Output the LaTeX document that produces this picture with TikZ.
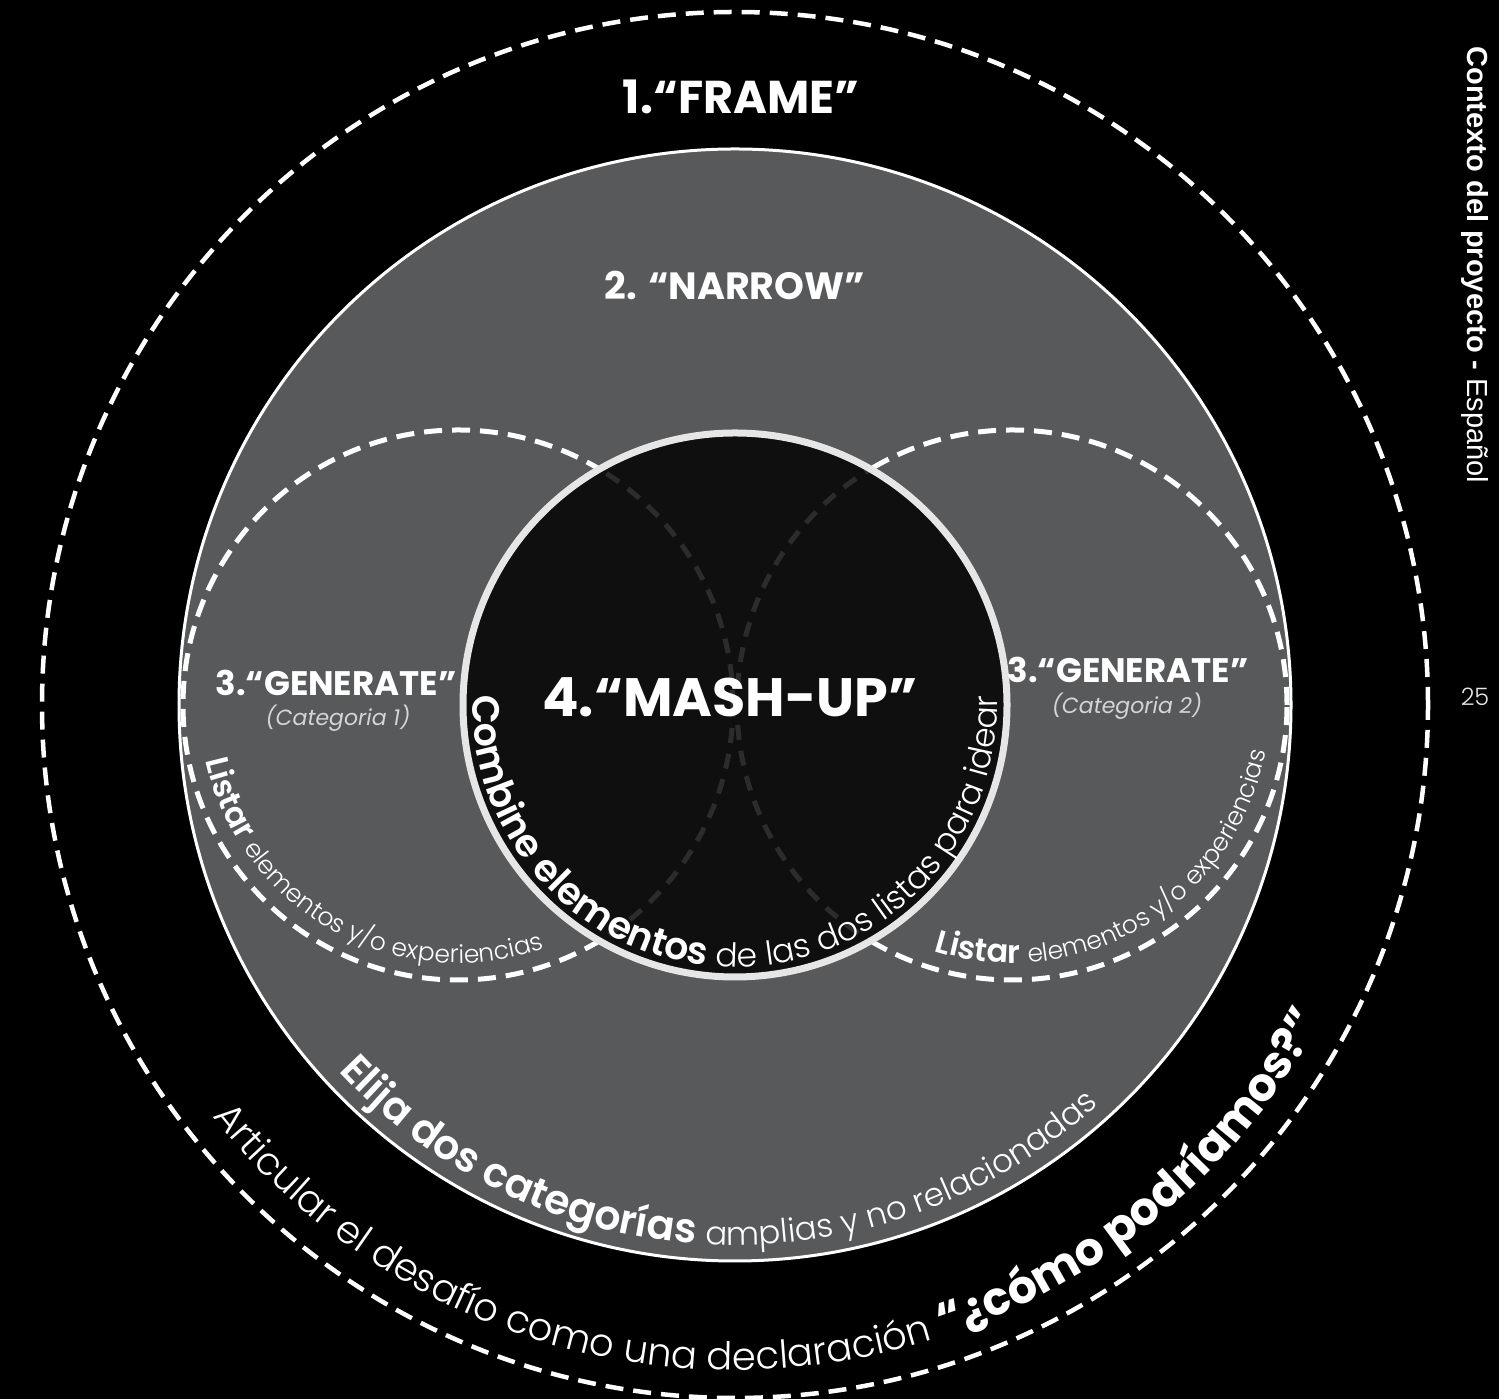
\documentclass[tikz,border=0pt]{standalone}
\usepackage{fontspec}
\setmainfont{Poppins}
\IfFontExistsTF{Poppins Light}{\newfontfamily\ligera{Poppins Light}}{\newfontfamily\ligera{Poppins}}
\IfFontExistsTF{Poppins SemiBold}{\newfontfamily\semi{Poppins SemiBold}}{\newcommand\semi{\bfseries}}
\newfontfamily\arial{Liberation Sans}
\usetikzlibrary{decorations.text}

\definecolor{NarrowColor}{HTML}{58595B}
\definecolor{MashColor}{HTML}{0F0F0F}
\definecolor{MashBorde}{HTML}{E6E6E6}
\definecolor{DashOscuro}{HTML}{2C2C2C}
\definecolor{CatColor}{HTML}{D4D4D4}

\tikzset{
  guion/.style={white, line width=5pt, dash pattern=on 18pt off 10pt},
  guionoscuro/.style={DashOscuro, line width=5pt, dash pattern=on 15pt off 11pt},
  titulo/.style={text=white, font=\bfseries\fontsize{#1}{#1}\selectfont, inner sep=0pt},
  categoria/.style={text=CatColor, font=\itshape\fontsize{22}{26}\selectfont, inner sep=0pt},
  curvo/.style={decorate, decoration={text along path, text align=center, text color=white, #1}}
}

\begin{document}
\begin{tikzpicture}[x=1pt,y=1pt]
  % ===== Parámetros =====
  \def\rFrame{693}
  \def\rNarrow{556}
  \def\rMash{272}
  \def\rGen{275}

  \useasboundingbox (0,0) rectangle (1499,1399);
  \fill[black] (0,0) rectangle (1499,1399);

  \coordinate (centro) at (735,694);
  \coordinate (izq)    at (458,694);
  \coordinate (der)    at (1012,694);

  % ===== Círculos =====
  \draw[guion, line width=4.5pt] (centro) circle (\rFrame);
  \filldraw[fill=NarrowColor, draw=white, line width=3pt] (centro) circle (\rNarrow);
  \draw[guion] (izq) circle (\rGen);
  \draw[guion] (der) circle (\rGen);
  \fill[MashColor] (centro) circle (\rMash);
  \begin{scope}
    \clip (centro) circle (\rMash);
    \draw[guionoscuro] (izq) circle (\rGen);
    \draw[guionoscuro] (der) circle (\rGen);
  \end{scope}
  \draw[MashBorde, line width=7pt] (centro) circle (\rMash);

  % ===== Etiquetas =====
  \node[titulo=46] (frame)  at (741,1302) {1.“FRAME”};
  \node[titulo=38] (narrow) at (735,1114) {2. “NARROW”};
  \node[titulo=54] (mashup) at (730,702)  {4.“MASH-UP”};
  \node[titulo=34] (genA)   at (336,716)  {3.“GENERATE”};
  \node[titulo=34] (genB)   at (1128,729) {3.“GENERATE”};
  \node[categoria] (catA) at (338,681) {(Categoria 1)};
  \node[categoria] (catB) at (1127,693) {(Categoria 2)};

  % ===== Textos curvos =====
  \path[curvo={text={|\fontsize{38}{38}\selectfont\semi|Combine elementos |\fontsize{33}{33}\selectfont\ligera|de las dos listas para idear}}]
    (centro) ++(165:262) arc[start angle=165, end angle=375, radius=262];
  \path[curvo={text={|\fontsize{32}{32}\selectfont\semi|Listar |\fontsize{25}{25}\selectfont\ligera|elementos y/o experiencias}}]
    (izq) ++(151:258) arc[start angle=151, end angle=331, radius=258];
  \path[curvo={text={|\fontsize{32}{32}\selectfont\semi|Listar |\fontsize{25}{25}\selectfont\ligera|elementos y/o experiencias}}]
    (der) ++(211:258) arc[start angle=211, end angle=391, radius=258];
  \path[curvo={text={|\fontsize{41}{41}\selectfont\semi|Elija dos categorías |\fontsize{32.5}{32.5}\selectfont\ligera|amplias y no relacionadas}}]
    (centro) ++(180:540) arc[start angle=180, end angle=355, radius=540];
  \path[curvo={text={|\fontsize{38.5}{38.5}\selectfont\ligera|Articular el desafío como una declaración |\fontsize{46}{46}\selectfont\bfseries|“¿cómo podríamos?”}}]
    (centro) ++(185:665) arc[start angle=185, end angle=365, radius=665];

  % ===== Margen derecho =====
  \node[rotate=-90, text=white, font=\arial\fontsize{29}{34}\selectfont] (contexto) at (1475,1134)
    {\textbf{Contexto del proyecto -} Español};
  \node[text=MashBorde, font=\ligera\fontsize{24}{28}\selectfont] (pagina) at (1475,702) {25};

\end{tikzpicture}
\end{document}
